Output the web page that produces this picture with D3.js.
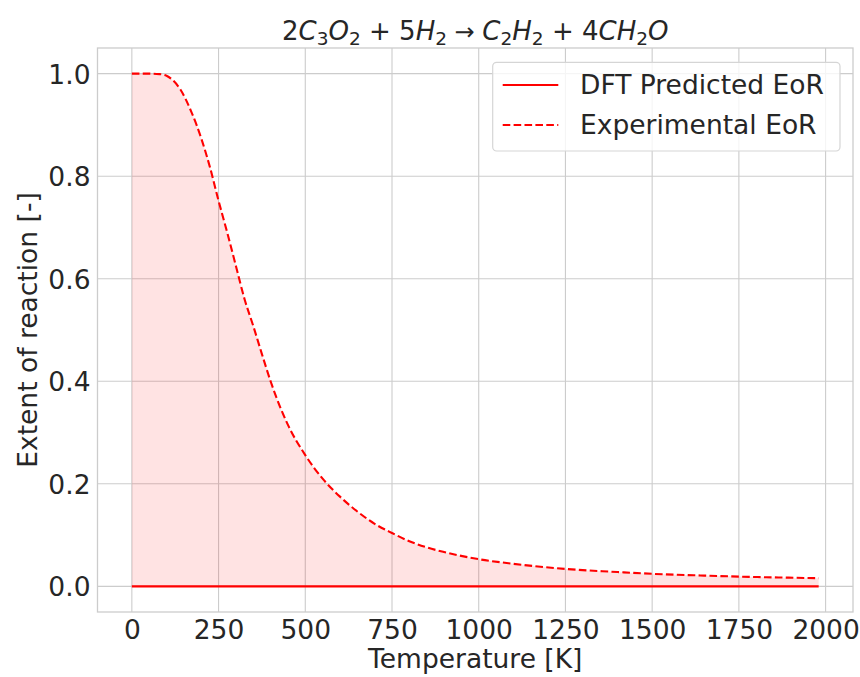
<!DOCTYPE html>
<html>
<head>
<meta charset="utf-8">
<script src="https://cdn.jsdelivr.net/npm/d3@7"></script>
<style>
  html, body { margin: 0; padding: 0; background: #ffffff; }
  svg { display: block; font-family: "DejaVu Sans", sans-serif; }
</style>
</head>
<body>
<div id="chart"></div>
<script>
// ---------------- data ----------------
const temperatures = [0, 50, 80, 100, 120, 140, 170, 200, 225, 250, 275, 300, 325, 350, 375, 400,
  450, 500, 550, 600, 650, 700, 750, 800, 850, 900, 1000, 1100, 1250, 1400, 1500, 1650, 1750, 1850, 1980];
const experimentalEoR = [1.0, 1.0, 0.999, 0.996, 0.986, 0.969, 0.928, 0.874, 0.818, 0.752, 0.69, 0.625,
  0.56, 0.508, 0.453, 0.40, 0.315, 0.256, 0.21, 0.175, 0.146, 0.122, 0.104, 0.088, 0.076, 0.067, 0.053,
  0.044, 0.034, 0.028, 0.0245, 0.021, 0.019, 0.0175, 0.016];
const dftTemperatures = [0, 1980];
const dftEoR = [0, 0];
const xTicks = [0, 250, 500, 750, 1000, 1250, 1500, 1750, 2000];
const yTicks = [0.0, 0.2, 0.4, 0.6, 0.8, 1.0];
const seriesNames = ["DFT Predicted EoR", "Experimental EoR"];
const xLabel = "Temperature [K]";
const yLabel = "Extent of reaction [-]";
// title: 2C3O2 + 5H2 -> C2H2 + 4CH2O  (n = upright, i = italic, s = subscript)
const titleParts = [
  ["2", "n"], ["C", "i"], ["3", "s"], ["O", "i"], ["2", "s"], [" + ", "n"], ["5", "n"], ["H", "i"], ["2", "s"],
  [" \u2192 ", "n"], ["C", "i"], ["2", "s"], ["H", "i"], ["2", "s"], [" + ", "n"], ["4", "n"], ["C", "i"],
  ["H", "i"], ["2", "s"], ["O", "i"]
];

// ---------------- layout ----------------
const W = 860, H = 677;
const L = 97.5, R = 853, T = 48, B = 612;
const textColor = "#262626";
const gridColor = "#cccccc";
const fs = 26.5;

const svg = d3.select("#chart").append("svg").attr("width", W).attr("height", H);

const x = d3.scaleLinear().domain([-99, 2079]).range([L, R]);
const y = d3.scaleLinear().domain([-0.05, 1.05]).range([B, T]);

// grid
svg.append("g").selectAll("line").data(xTicks).join("line")
  .attr("x1", d => x(d)).attr("x2", d => x(d)).attr("y1", T).attr("y2", B)
  .attr("stroke", gridColor).attr("stroke-width", 1.1);
svg.append("g").selectAll("line").data(yTicks).join("line")
  .attr("y1", d => y(d)).attr("y2", d => y(d)).attr("x1", L).attr("x2", R)
  .attr("stroke", gridColor).attr("stroke-width", 1.1);

// data points
const expData = temperatures.map((t, i) => ({ t, v: experimentalEoR[i] }));
const dftData = dftTemperatures.map((t, i) => ({ t, v: dftEoR[i] }));

// fill between
svg.append("path").datum(expData)
  .attr("d", d3.area().x(d => x(d.t)).y0(y(0)).y1(d => y(d.v)).curve(d3.curveMonotoneX))
  .attr("fill", "#ff0000").attr("fill-opacity", 0.11).attr("stroke", "none");

// lines
svg.append("path").datum(dftData)
  .attr("d", d3.line().x(d => x(d.t)).y(d => y(d.v)))
  .attr("fill", "none").attr("stroke", "#ff0000").attr("stroke-width", 2.1);
svg.append("path").datum(expData)
  .attr("d", d3.line().x(d => x(d.t)).y(d => y(d.v)).curve(d3.curveMonotoneX))
  .attr("fill", "none").attr("stroke", "#ff0000").attr("stroke-width", 2.1)
  .attr("stroke-dasharray", "7.6,3.3");

// spines
svg.append("rect").attr("x", L).attr("y", T).attr("width", R - L).attr("height", B - T)
  .attr("fill", "none").attr("stroke", gridColor).attr("stroke-width", 1.3);

// axes (D3 axes, no tick marks)
const xAxis = svg.append("g").attr("transform", `translate(0,${B})`)
  .call(d3.axisBottom(x).tickValues(xTicks).tickSize(0).tickPadding(0).tickFormat(d3.format("d")));
xAxis.select(".domain").remove();
xAxis.selectAll("text").attr("font-size", fs).attr("fill", textColor)
  .attr("font-family", "DejaVu Sans").attr("dy", null).attr("y", 27).attr("dominant-baseline", "auto");

const yAxis = svg.append("g").attr("transform", `translate(${L},0)`)
  .call(d3.axisLeft(y).tickValues(yTicks).tickSize(0).tickPadding(0).tickFormat(d3.format(".1f")));
yAxis.select(".domain").remove();
yAxis.selectAll("text").attr("font-size", fs).attr("fill", textColor)
  .attr("font-family", "DejaVu Sans").attr("x", -7).attr("dy", "0.36em");

// axis labels
svg.append("text").attr("x", (L + R) / 2).attr("y", 668).attr("text-anchor", "middle")
  .attr("font-size", fs).attr("fill", textColor).text(xLabel);
svg.append("text").attr("transform", `translate(37,${(T + B) / 2}) rotate(-90)`)
  .attr("text-anchor", "middle").attr("font-size", fs).attr("fill", textColor).text(yLabel);

// title
const title = svg.append("text").attr("x", (L + R) / 2).attr("y", 40).attr("text-anchor", "middle")
  .attr("font-size", 26).attr("fill", textColor).style("white-space", "pre");
let prevSub = false;
titleParts.forEach(([txt, st]) => {
  const ts = title.append("tspan").text(txt);
  if (st === "i") ts.attr("font-style", "italic");
  if (st === "s") {
    ts.attr("font-size", 18.5).attr("dy", 5);
    prevSub = true;
  } else if (prevSub) {
    ts.attr("dy", -5);
    prevSub = false;
  }
  if (txt === " \u2192 ") ts.attr("font-size", 24);
});

// legend
const lg = svg.append("g");
lg.append("rect").attr("x", 492.7).attr("y", 62.3).attr("width", 347.3).attr("height", 88.7)
  .attr("rx", 4).attr("fill", "#ffffff").attr("fill-opacity", 0.8)
  .attr("stroke", "#d5d5d5").attr("stroke-width", 1.2);
const rows = [{ y: 85, dash: null }, { y: 125, dash: "7.6,3.3" }];
rows.forEach((r, i) => {
  const ln = lg.append("line").attr("x1", 502.7).attr("x2", 558.3).attr("y1", r.y).attr("y2", r.y)
    .attr("stroke", "#ff0000").attr("stroke-width", 2.1);
  if (r.dash) ln.attr("stroke-dasharray", r.dash);
  lg.append("text").attr("x", 580).attr("y", r.y + 9.3).attr("font-size", fs).attr("fill", textColor)
    .text(seriesNames[i]);
});
</script>
</body>
</html>
